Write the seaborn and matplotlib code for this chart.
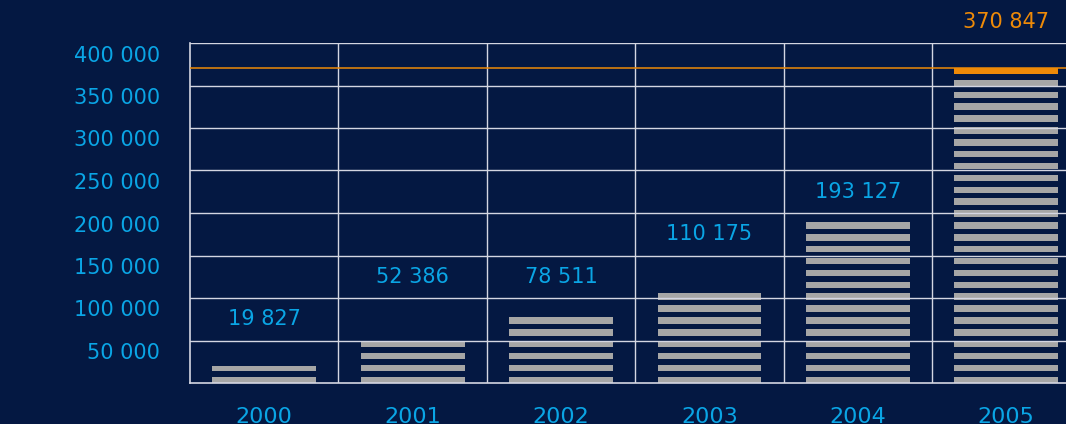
import matplotlib
matplotlib.use("Agg")
import matplotlib.pyplot as plt
import matplotlib.transforms as mtransforms
import numpy as np
import pandas as pd
import seaborn as sns

# Yearly totals
years = ["2000", "2001", "2002", "2003", "2004", "2005"]
values = [19827, 52386, 78511, 110175, 193127, 370847]
y_ticks = [50000, 100000, 150000, 200000, 250000, 300000, 350000, 400000]

BG = "#041842"
CYAN = "#0aa5e5"
ORANGE = "#ee8a08"
GREY = "#a6a6a6"
GRID = "#d4d6e2"
STRIPE_PITCH = 13970      # data units between stripe bottoms
STRIPE_HEIGHT = 7600      # data units of one visible stripe
STEP = 50000

def fmt(v):
    return f"{v:,}".replace(",", " ")

sns.set_theme(style="dark")
plt.rcParams["font.family"] = ["DejaVu Sans"]

df = pd.DataFrame({"year": years, "value": values})

fig = plt.figure(figsize=(10.66, 4.24), dpi=100, facecolor=BG)
ax = fig.add_axes([190 / 1066, 1 - 383 / 424, (1080.5 - 190) / 1066, (383 - 43) / 424])
ax.set_facecolor(BG)

sns.barplot(data=df, x="year", y="value", color=GREY, saturation=1,
            width=0.7, ax=ax, zorder=1, linewidth=0, edgecolor="none")

# cut bars into horizontal stripes
for k in range(int(400000 / STRIPE_PITCH) + 1):
    lo = k * STRIPE_PITCH + STRIPE_HEIGHT
    ax.axhspan(lo, (k + 1) * STRIPE_PITCH, color=BG, lw=0, zorder=1.5)

# highlight the top stripe of the largest bar
imax = int(np.argmax(values))
vmax = values[imax]
ax.bar(imax, STRIPE_HEIGHT, bottom=vmax - STRIPE_HEIGHT, width=0.7,
       color=ORANGE, lw=0, zorder=1.8)
ax.axhline(vmax, color=ORANGE, lw=1.1, zorder=2.6)

ax.set_xlim(-0.5, len(years) - 0.5)
ax.set_ylim(0, 400000)

# grid drawn over the bars
for y in y_ticks:
    ax.axhline(y, color=GRID, lw=1.0, zorder=2.5)
for x in np.arange(0.5, len(years) - 0.5, 1):
    ax.axvline(x, color=GRID, lw=1.0, zorder=2.5)
for side in ["top", "right"]:
    ax.spines[side].set_visible(False)
for side in ["left", "bottom"]:
    ax.spines[side].set_color(GRID)
    ax.spines[side].set_linewidth(1.2)
    ax.spines[side].set_zorder(2.5)

ax.set_xlabel("")
ax.set_ylabel("")
ax.set_yticks([])
ax.set_xticks(range(len(years)))
ax.set_xticklabels(years, color=CYAN, fontsize=16)
ax.tick_params(axis="x", length=0, pad=17)

# y labels sit just under their grid line, right-aligned left of the plot
ylab_tr = ax.get_yaxis_transform() + mtransforms.ScaledTranslation(
    -0.30, -0.025, fig.dpi_scale_trans)
for y in y_ticks:
    ax.text(0, y, fmt(y), color=CYAN, fontsize=15, ha="right", va="top",
            transform=ylab_tr, clip_on=False)

# value labels centred in the grid cell above the bar top
for i, v in enumerate(values):
    ly = (v // STEP + 1.5) * STEP
    ax.text(i, ly, fmt(v), color=ORANGE if i == imax else CYAN, fontsize=15,
            ha="center", va="center", clip_on=False)

fig.savefig("out.png", dpi=100, facecolor=BG)
